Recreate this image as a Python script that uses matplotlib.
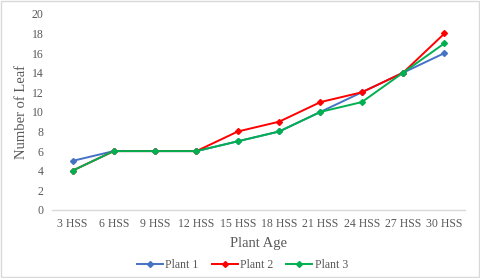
import matplotlib
matplotlib.use("Agg")
import matplotlib.pyplot as plt
from matplotlib.lines import Line2D

categories = ["3 HSS", "6 HSS", "9 HSS", "12 HSS", "15 HSS", "18 HSS",
              "21 HSS", "24 HSS", "27 HSS", "30 HSS"]
plant1 = [5, 6, 6, 6, 7, 8, 10, 12, 14, 16]
plant2 = [4, 6, 6, 6, 8, 9, 11, 12, 14, 18]
plant3 = [4, 6, 6, 6, 7, 8, 10, 11, 14, 17]
series_names = ["Plant 1", "Plant 2", "Plant 3"]
colors = ["#4472C4", "#FF0000", "#00B050"]

plt.rcParams['font.family'] = ['Liberation Serif', 'DejaVu Serif']

fig = plt.figure(figsize=(4.8, 2.78), dpi=100)
fig.patch.set_facecolor("white")
ax = fig.add_axes([0.108, 0.245, 0.861, 0.705])

x = list(range(len(categories)))
for vals, name, c in zip([plant1, plant2, plant3], series_names, colors):
    ax.plot(x, vals, color=c, lw=1.4, marker="D", ms=3, label=name)

ax.set_xlim(-0.5, len(categories) - 0.5)
ax.set_ylim(0, 20)
ax.set_yticks(range(0, 21, 2))
ax.set_xticks(x)
ax.set_xticklabels(categories)
ax.tick_params(axis="both", length=0, labelsize=8.5, colors="#595959", pad=6)
for s in ["top", "right", "left"]:
    ax.spines[s].set_visible(False)
ax.spines["bottom"].set_color("#D9D9D9")
ax.spines["bottom"].set_linewidth(1)

ax.set_xlabel("Plant Age", fontsize=10.5, color="#595959", labelpad=5)
ax.set_ylabel("Number of Leaf", fontsize=10.5, color="#595959", labelpad=2.5)

handles = [Line2D([0], [0], color=c, lw=1.4, marker="D", ms=3) for c in colors]
fig.legend(handles, series_names, loc="center", bbox_to_anchor=(0.505, 0.045),
           ncol=3, frameon=False, fontsize=8.5, labelcolor="#595959",
           handlelength=2.2, handletextpad=0.2, columnspacing=1.1)

border = plt.Rectangle((0.002, 0.003), 0.995, 0.993, transform=fig.transFigure,
                       fill=False, edgecolor="#D9D9D9", lw=1)
fig.patches.append(border)

fig.savefig("out.png", dpi=100)
